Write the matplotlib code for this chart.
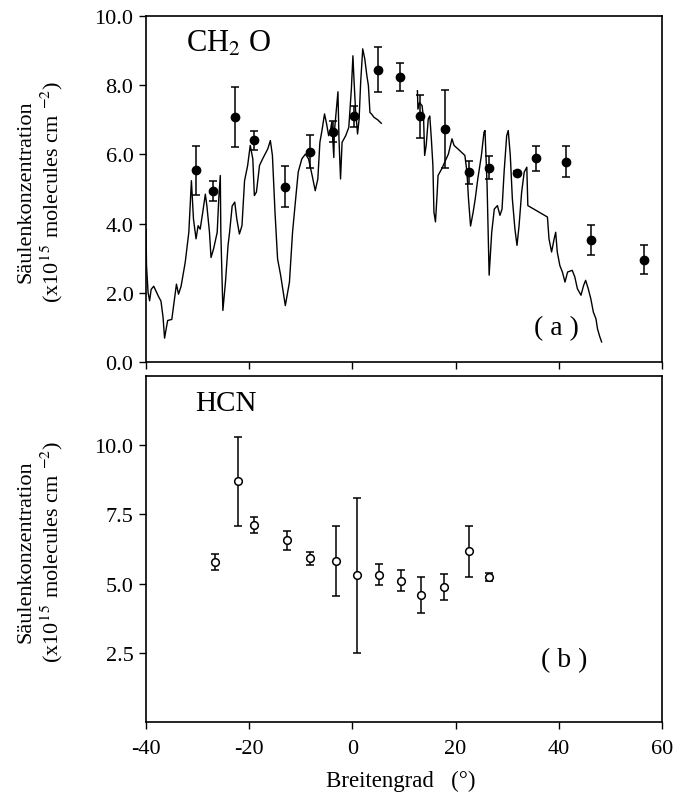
import numpy as np
import matplotlib
matplotlib.use("Agg")
import matplotlib.pyplot as plt

plt.rcParams['font.family'] = ['Liberation Serif', 'DejaVu Serif']
plt.rcParams['mathtext.fontset'] = 'stix'

# CH2O column measurements (filled circles)
lat_ch2o = [-30.3, -27.0, -22.7, -19.0, -13.1, -8.3, -3.75, 0.4, 4.9, 9.3,
            13.05, 18.0, 22.6, 26.5, 31.85, 35.6, 41.3, 46.3, 56.5]
ch2o = [5.54, 4.94, 7.08, 6.41, 5.07, 6.08, 6.66, 7.10, 8.45, 8.24,
        7.10, 6.73, 5.48, 5.62, 5.47, 5.89, 5.79, 3.53, 2.96]
ch2o_err = [0.70, 0.29, 0.87, 0.27, 0.60, 0.48, 0.30, 0.31, 0.66, 0.40,
            0.63, 1.12, 0.34, 0.33, 0.05, 0.36, 0.45, 0.43, 0.43]

# CH2O continuous trace, first section
trace1_lat = [-40.0, -39.9, -39.6, -39.3, -39.0, -38.5, -37.6, -37.1, -36.7, -36.4,
              -36.1, -35.8, -35.0, -34.1, -33.7, -33.2, -32.4, -31.7, -31.2, -30.8,
              -30.3, -29.9, -29.5, -29.0, -28.5, -28.2, -27.7, -27.4, -26.9, -26.2,
              -25.9, -25.6, -25.5, -25.1, -24.6, -24.1, -23.8, -23.3, -22.8, -22.4,
              -21.9, -21.4, -20.9, -20.3, -19.8, -19.3, -19.0, -18.6, -18.0, -17.4,
              -16.4, -15.9, -15.5, -15.0, -14.5, -13.9, -13.0, -12.2, -11.6, -11.0,
              -10.5, -9.8, -9.1, -8.5, -7.8, -7.2, -6.7, -6.3, -5.9, -5.4,
              -5.0, -4.6, -4.2, -4.0, -3.6, -3.5, -3.1, -2.8, -2.6, -2.3,
              -2.0, -1.3, -0.7, -0.2, 0.1, 0.3, 0.6, 1.0, 1.3, 1.6,
              2.0, 2.4, 2.8, 3.1, 3.4, 3.7, 4.2, 4.9, 5.6]
trace1_val = [3.84, 2.78, 2.01, 1.77, 2.10, 2.19, 1.90, 1.76, 1.30, 0.69,
              0.95, 1.20, 1.23, 2.25, 1.96, 2.19, 2.88, 3.75, 5.24, 4.13,
              3.56, 3.94, 3.84, 4.33, 4.85, 4.51, 3.75, 3.02, 3.27, 3.75,
              4.71, 5.39, 3.75, 1.49, 2.31, 3.37, 3.75, 4.51, 4.62, 4.13,
              3.70, 3.94, 5.24, 5.68, 6.26, 5.87, 4.81, 4.91, 5.68, 5.87,
              6.16, 6.40, 5.97, 4.33, 2.98, 2.50, 1.63, 2.31, 3.75, 4.71,
              5.49, 5.87, 6.01, 5.87, 5.39, 4.95, 5.29, 6.35, 6.69, 7.17,
              6.88, 6.54, 6.74, 6.93, 5.91, 6.64, 7.31, 7.81, 6.45, 5.29,
              6.35, 6.54, 6.78, 7.89, 8.85, 8.18, 7.31, 6.59, 7.02, 8.08,
              9.05, 8.76, 8.28, 7.99, 7.21, 7.17, 7.07, 7.00, 6.90]

# CH2O continuous trace, second section
trace2_lat = [12.6, 12.7, 13.0, 13.5, 13.8, 14.0, 14.3, 14.7, 15.0, 15.3,
              15.6, 15.8, 16.1, 16.4, 16.6, 17.3, 17.9, 18.6, 19.0, 19.3,
              19.7, 20.8, 21.8, 22.2, 22.5, 22.9, 23.4, 23.8, 24.3, 25.0,
              25.5, 25.7, 26.1, 26.5, 27.0, 27.5, 28.1, 28.6, 29.0, 29.4,
              29.9, 30.2, 30.6, 31.0, 31.5, 31.9, 32.3, 32.8, 33.3, 33.8,
              34.0, 37.8, 38.1, 38.6, 39.1, 39.4, 39.7, 40.2, 40.7, 41.2,
              41.7, 42.6, 43.1, 43.6, 44.3, 44.8, 45.2, 45.7, 46.2, 46.7,
              47.2, 47.5, 47.9, 48.3]
trace2_val = [7.84, 7.31, 7.50, 7.41, 7.02, 5.97, 6.26, 7.02, 7.11, 6.45,
              5.68, 4.33, 4.05, 4.81, 5.39, 5.58, 5.78, 6.01, 6.26, 6.45,
              6.26, 6.11, 5.97, 5.49, 4.71, 3.93, 4.33, 4.71, 5.29, 5.97,
              6.64, 6.69, 5.11, 2.51, 3.75, 4.42, 4.52, 4.24, 4.42, 5.49,
              6.54, 6.69, 5.97, 4.71, 3.84, 3.37, 3.94, 4.91, 5.49, 5.63,
              4.52, 4.19, 3.56, 3.18, 3.56, 3.75, 3.18, 2.79, 2.60, 2.31,
              2.60, 2.65, 2.46, 2.12, 1.93, 2.21, 2.36, 2.12, 1.83, 1.44,
              1.25, 0.96, 0.75, 0.58]

# HCN column measurements (open circles)
lat_hcn = [-26.6, -22.2, -19.0, -12.6, -8.15, -3.2, 0.98, 5.1, 9.4, 13.2,
           17.7, 22.5, 26.5]
hcn = [5.78, 8.69, 7.12, 6.56, 5.92, 5.82, 5.30, 5.32, 5.10, 4.58,
       4.88, 6.16, 5.24]
hcn_err = [0.30, 1.60, 0.28, 0.34, 0.23, 1.27, 2.79, 0.38, 0.38, 0.66,
           0.48, 0.91, 0.14]

x_ticks = [-40, -20, 0, 20, 40, 60]
x_ticklabels = ['-40', '-20', '0', '20', '40', '60']
top_yticks = [0, 2, 4, 6, 8, 10]
top_yticklabels = ['0.0', '2.0', '4.0', '6.0', '8.0', '10.0']
bot_yticks = [2.5, 5.0, 7.5, 10.0]
bot_yticklabels = ['2.5', '5.0', '7.5', '10.0']

W, H = 674, 803
fig = plt.figure(figsize=(W / 100, H / 100), dpi=100)

def axes_px(left, top, right, bottom):
    return fig.add_axes([left / W, (H - bottom) / H, (right - left) / W, (bottom - top) / H])

ax1 = axes_px(146, 17, 662, 363)
ax2 = axes_px(146, 377, 662, 723)

fs_tick = 16
for ax in (ax1, ax2):
    for s in ax.spines.values():
        s.set_linewidth(1.2)
    ax.tick_params(direction='out', length=5, width=1.0, labelsize=fs_tick, pad=4)
    ax.set_xlim(-40, 60)
    ax.set_xticks(x_ticks)

# panel (a)
ax1.plot(trace1_lat, trace1_val, color='black', lw=1.0)
ax1.plot(trace2_lat, trace2_val, color='black', lw=1.0)
ax1.errorbar(lat_ch2o, ch2o, yerr=ch2o_err, fmt='o', color='black', ms=6,
             elinewidth=1.1, capsize=3, capthick=1.1, zorder=5)
ax1.set_ylim(0, 10)
ax1.set_yticks(top_yticks)
ax1.set_yticklabels(top_yticklabels)
ax1.set_xticklabels([])
ax1.text(0.078, 0.899, 'CH$_2$ O', transform=ax1.transAxes, fontsize=22,
         ha='left', va='baseline')
ax1.text(0.795, 0.10, '( a )', transform=ax1.transAxes, fontsize=20,
         ha='center', va='center')

# panel (b)
ax2.errorbar(lat_hcn, hcn, yerr=hcn_err, fmt='o', color='black', mfc='white',
             mec='black', ms=5.5, mew=1.1, elinewidth=1.1, capsize=3,
             capthick=1.1, zorder=5)
ax2.set_ylim(0, 12.5)
ax2.set_yticks(bot_yticks)
ax2.set_yticklabels(bot_yticklabels)
ax2.set_xticklabels(x_ticklabels)
ax2.tick_params(axis='x', pad=7)
ax2.text(0.095, 0.902, 'HCN', transform=ax2.transAxes, fontsize=21,
         ha='left', va='baseline')
ax2.text(0.81, 0.18, '( b )', transform=ax2.transAxes, fontsize=20,
         ha='center', va='center')

# axis titles
line1 = 'Säulenkonzentration'
line2 = '(x10$^{1\\,5}$ molecules cm $^{-2}$)'
for yc in (192, 552):
    fig.text(26 / W, (H - yc) / H, line1, rotation=90, fontsize=16,
             ha='center', va='center')
    fig.text(52 / W, (H - yc) / H, line2, rotation=90, fontsize=16,
             ha='center', va='center')

fig.text(401 / W, (H - 781) / H, 'Breitengrad   (°)', fontsize=16.5,
         ha='center', va='center')

fig.savefig('out.png', dpi=100)
